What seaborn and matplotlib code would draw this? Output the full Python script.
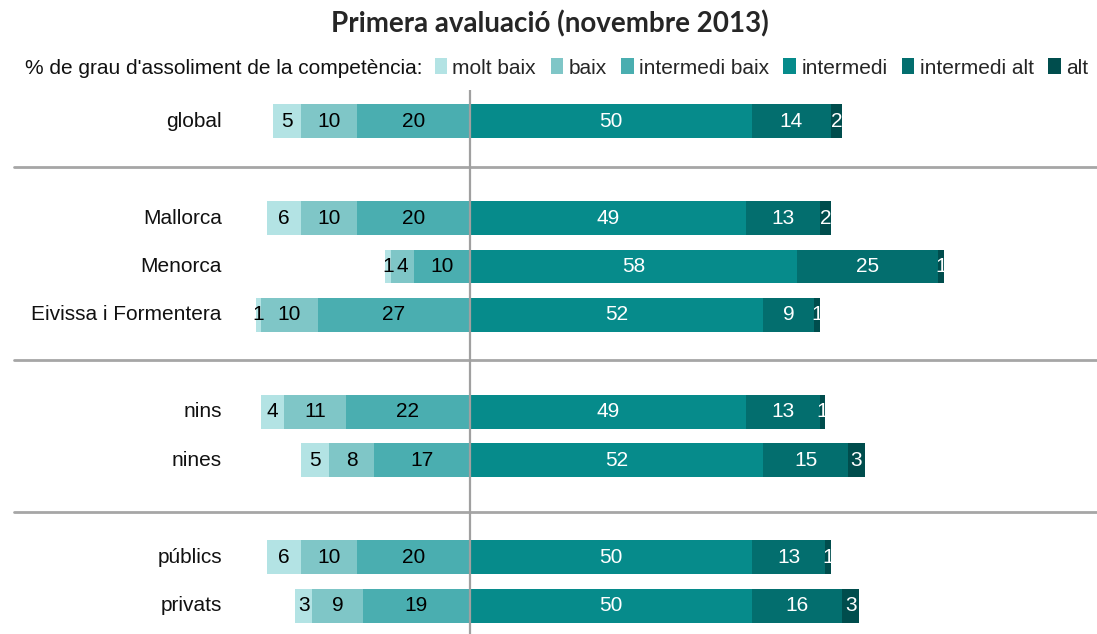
import seaborn as sns
import matplotlib.pyplot as plt
from matplotlib.patches import Patch
import pandas as pd

# rows of the chart, gaps are empty slots between groups
order = ['global', ' ', 'Mallorca', 'Menorca', 'Eivissa i Formentera', '  ',
         'nins', 'nines', '   ', 'públics', 'privats']
cats = ['global', 'Mallorca', 'Menorca', 'Eivissa i Formentera',
        'nins', 'nines', 'públics', 'privats']

molt_baix = [5, 6, 1, 1, 4, 5, 6, 3]
baix = [10, 10, 4, 10, 11, 8, 10, 9]
inter_baix = [20, 20, 10, 27, 22, 17, 20, 19]
inter = [50, 49, 58, 52, 49, 52, 50, 50]
inter_alt = [14, 13, 25, 9, 13, 15, 13, 16]
alt = [2, 2, 1, 1, 1, 3, 1, 3]

levels = ['molt baix', 'baix', 'intermedi baix', 'intermedi', 'intermedi alt', 'alt']
colors = ['#b3e3e4', '#7fc6c7', '#4aaeb0', '#068b8b', '#036e6e', '#004d4d']

df = pd.DataFrame({'cat': cats, 'mb': molt_baix, 'b': baix, 'ib': inter_baix,
                   'i': inter, 'ia': inter_alt, 'a': alt})
# cumulative ends of each segment (left side negative)
df['l1'] = -(df.ib + df.b + df.mb)
df['l2'] = -(df.ib + df.b)
df['l3'] = -df.ib
df['r3'] = df.i + df.ia + df.a
df['r2'] = df.i + df.ia
df['r1'] = df.i

sns.set_theme(style='white')
plt.rcParams['font.family'] = ['Liberation Sans', 'DejaVu Sans']

fig = plt.figure(figsize=(10.97, 6.34), dpi=100)
ax = fig.add_axes([0, 0, 1, (634 - 90) / 634])

# draw widest first, narrower on top -> stacked look
for col, c in [('l1', colors[0]), ('l2', colors[1]), ('l3', colors[2]),
               ('r3', colors[5]), ('r2', colors[4]), ('r1', colors[3])]:
    sns.barplot(data=df, x=col, y='cat', order=order, orient='h', color=c,
                saturation=1, width=0.7, linewidth=0, errorbar=None, ax=ax)

ax.set_xlim(-470 / 5.64, 627 / 5.64)
ax.set_ylim(10.58, -0.64)
ax.axis('off')

ax.axvline(0, color='#a0a0a0', lw=1.6, zorder=5)
for yy in [0.95, 4.93, 8.06]:
    ax.plot([-80.9, 111.2], [yy, yy], color='#a6a6a6', lw=2, zorder=1)

fs = 15
for k, cat in enumerate(cats):
    y = order.index(cat)
    ax.text(-44, y, cat, ha='right', va='center', fontsize=fs, color='#111111')
    segs = [(df.l1[k], df.l2[k], molt_baix[k], 'black'),
            (df.l2[k], df.l3[k], baix[k], 'black'),
            (df.l3[k], 0, inter_baix[k], 'black'),
            (0, df.r1[k], inter[k], 'white'),
            (df.r1[k], df.r2[k], inter_alt[k], 'white'),
            (df.r2[k], df.r3[k], alt[k], 'white')]
    for a, b, v, tc in segs:
        ax.text((a + b) / 2, y, str(v), ha='center', va='center',
                fontsize=fs, color=tc, zorder=6)

fig.text(0.501, 1 - 24 / 634, 'Primera avaluació (novembre 2013)', ha='center',
         va='center', fontsize=20, fontweight='bold', family=['Lato', 'DejaVu Sans'])

fig.text(25 / 1097, 1 - 68 / 634, "% de grau d'assoliment de la competència:",
         ha='left', va='center', fontsize=fs, color='#111111')
handles = [Patch(facecolor=c, edgecolor='none', label=l) for c, l in zip(colors, levels)]
fig.legend(handles=handles, ncol=6, frameon=False, loc='center right',
           bbox_to_anchor=(1088 / 1097, 1 - 68 / 634), fontsize=fs,
           handlelength=0.6, handleheight=0.8, handletextpad=0.25,
           columnspacing=0.7, borderpad=0, borderaxespad=0)

fig.savefig('out.png', dpi=100, facecolor='white')
